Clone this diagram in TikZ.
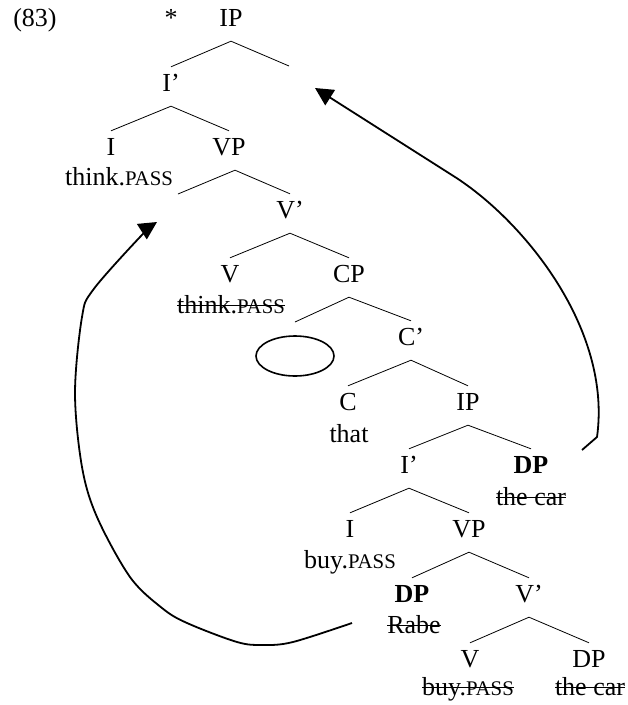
\documentclass[tikz,border=0pt]{standalone}
\usepackage{fontspec}
\setmainfont{Liberation Serif}
\usetikzlibrary{arrows.meta,shapes.geometric}

% struck-out text: a rule drawn through the middle of the lower-case letters
\newcommand{\strk}[1]{\leavevmode\setbox0\hbox{#1}\rlap{\rule[0.27em]{\wd0}{1.1pt}}\box0}
\newcommand{\gl}[1]{{\fontsize{20.8}{24}\selectfont #1}}

\tikzset{
  every node/.style={font=\fontsize{26}{30}\selectfont},
  cat/.style={inner sep=0pt, text height=24pt, text depth=15pt, anchor=base},
  word/.style={inner sep=0pt, anchor=base},
  branch/.style={line width=0.8pt},
  mv/.style={line width=1.8pt, line join=round,
             -{Triangle[length=18pt,width=18pt]}},
}

\begin{document}
\begin{tikzpicture}[x=1pt, y=-1pt]
\path[use as bounding box] (0,0) rectangle (628,705);

% example number and judgement
\node[word] (ex)   at (35,26)  {(83)};
\node[word] (star) at (171,26) {*};

% matrix clause
\node[cat]  (IPa)  at (231,26)  {IP};
\node[cat]  (Iba)  at (171,91)  {I’};
\node[cat]  (Ia)   at (111,155) {I};
\node[cat]  (VPa)  at (229,155) {VP};
\node[word] (thinkA) at (119,185) {think.\gl{PASS}};
\node[cat]  (Vba)  at (290,218) {V’};
\node[cat]  (Va)   at (230,282) {V};
\node[cat]  (CPa)  at (349,282) {CP};
\node[word] (thinkB) at (231,313) {\strk{think.\gl{PASS}}};
\node[cat]  (Cba)  at (411,345) {C’};
\node[draw, ellipse, line width=1.6pt, minimum width=78pt, minimum height=40pt,
      inner sep=0pt] (gap) at (295,356) {};

% embedded clause
\node[cat]  (Ca)   at (348,410) {C};
\node[cat]  (IPb)  at (468,410) {IP};
\node[word] (that) at (349,442) {that};
\node[cat]  (Ibb)  at (409,473) {I’};
\node[cat]  (DPa)  at (531,473) {\textbf{DP}};
\node[word] (carA) at (531,505) {\strk{the car}};
\node[cat]  (Ib)   at (350,537) {I};
\node[cat]  (VPb)  at (469,537) {VP};
\node[word] (buyA) at (350,568) {buy.\gl{PASS}};
\node[cat]  (DPb)  at (412,602) {\textbf{DP}};
\node[cat]  (Vbb)  at (529,602) {V’};
\node[word] (rabe) at (414,633) {\strk{Rabe}};
\node[cat]  (Vb)   at (470,667) {V};
\node[cat]  (DPc)  at (589,667) {DP};
\node[word] (buyB) at (468,695) {\strk{buy.\gl{PASS}}};
\node[word] (carB) at (590,695) {\strk{the car}};

% empty specifier positions
\coordinate (specIP) at (289,66);
\coordinate (specVP) at (178,194);
\coordinate (specCP) at (295,322);

% branches
\draw[branch] (Iba.north) -- (IPa.south) -- (specIP);
\draw[branch] (Ia.north)  -- (Iba.south) -- (VPa.north);
\draw[branch] (specVP)    -- ([xshift=6pt]VPa.south) -- (Vba.north);
\draw[branch] (Va.north)  -- (Vba.south) -- (CPa.north);
\draw[branch] (specCP)    -- (CPa.south) -- (Cba.north);
\draw[branch] (Ca.north)  -- (Cba.south) -- (IPb.north);
\draw[branch] (Ibb.north) -- (IPb.south) -- (DPa.north);
\draw[branch] (Ib.north)  -- (Ibb.south) -- (VPb.north);
\draw[branch] (DPb.north) -- (VPb.south) -- (Vbb.north);
\draw[branch] (Vb.north)  -- (Vbb.south) -- (DPc.north);

% movement arrows
\coordinate (mvAs) at (582,450);
\coordinate (mvAe) at (315,88);
\draw[mv] (mvAs) -- (597,437) .. controls (612,330) and (525,222) .. (455,177)
  -- (mvAe);

\coordinate (mvBs) at (352,623);
\coordinate (mvBe) at (157,222);
\draw[mv] plot[smooth, tension=0.55] coordinates
  {(mvBs) (293,642) (263,645) (237,642) (187,623) (162,608) (130,577)
   (97,517) (82,467) (75,393) (82,317) (93,290) (140,237) (mvBe)};
\end{tikzpicture}
\end{document}
